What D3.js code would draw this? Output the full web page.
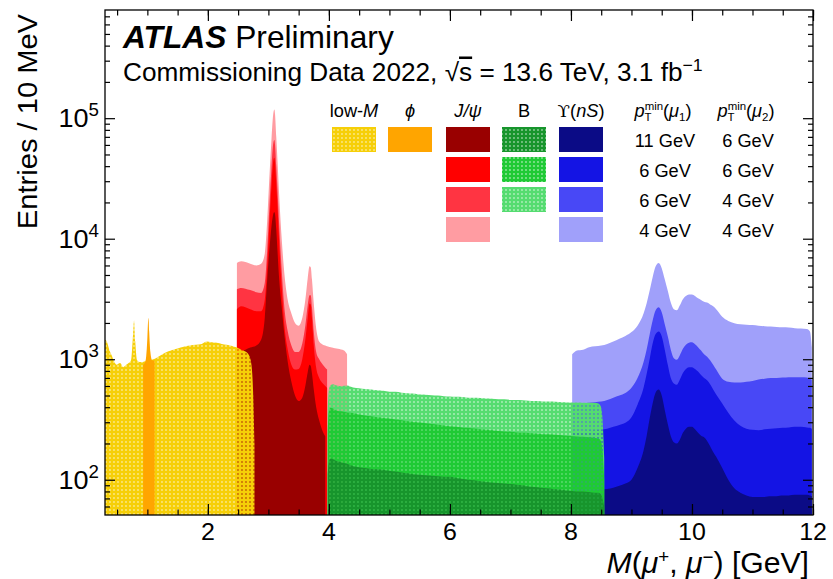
<!DOCTYPE html>
<html>
<head>
<meta charset="utf-8">
<script src="https://cdn.jsdelivr.net/npm/d3@7"></script>
<style>
html, body { margin: 0; padding: 0; background: #fff; }
svg { display: block; font-family: "Liberation Sans", Arial, Helvetica, sans-serif; }
</style>
</head>
<body>
<div id="chart"></div>
<script>
/* Settings */
var width = 833,
    height = 579,
    plotLeft = 105,
    plotRight = 813,
    plotTop = 10,
    plotBottom = 515,
    stretch = 1.04; /* the reference text is a bit wide */

/* Tick labels */
var xTicks = [2, 4, 6, 8, 10, 12],
    yDecades = [2, 3, 4, 5];

/* Legend */
var legendNames = ["low-M", "phi", "J/psi", "B", "Upsilon"],
    ptMu1Labels = ["11 GeV", "6 GeV", "6 GeV", "4 GeV"],
    ptMu2Labels = ["6 GeV", "6 GeV", "4 GeV", "4 GeV"];

/* low-M (yellow) */
var lowMMass = [0.30, 0.33, 0.37, 0.41, 0.45, 0.49, 0.55, 0.60, 0.65, 0.69, 0.73, 0.76, 0.78, 0.80, 0.83, 0.87, 0.92, 1.00, 1.10, 1.18,
                1.25, 1.32, 1.40, 1.50, 1.60, 1.70, 1.80, 1.90, 1.98, 2.06, 2.15, 2.23, 2.31, 2.40, 2.48, 2.55, 2.62, 2.68, 2.72, 2.75, 2.77];
var lowM = [1450, 1400, 1200, 1080, 960, 900, 930, 860, 900, 930, 980, 1500, 2100, 1400, 980, 950, 950, 980, 1000, 1050,
            1100, 1150, 1190, 1230, 1270, 1300, 1320, 1340, 1400, 1380, 1370, 1340, 1320, 1290, 1250, 1200, 1160, 1080, 900, 500, 200];

/* phi (orange) */
var phiMass = [0.93, 0.96, 0.98, 1.00, 1.01, 1.02, 1.03, 1.05, 1.08, 1.12];
var phiVals = [900, 940, 1050, 1500, 2000, 2200, 1700, 1150, 980, 970];

/* J/psi, pT thresholds 11/6, 6/6, 6/4, 4/4 */
var jpsiMass = [2.48, 2.55, 2.62, 2.70, 2.80, 2.88, 2.94, 2.98, 3.02, 3.05, 3.07, 3.09, 3.10, 3.11, 3.13, 3.15, 3.18, 3.22, 3.27, 3.32,
                3.38, 3.44, 3.50, 3.56, 3.61, 3.65, 3.68, 3.70, 3.72, 3.75, 3.79, 3.84, 3.90, 3.94, 3.97, 4.05, 4.15, 4.25, 4.30];
var jpsi11 = [1100, 1150, 1200, 1250, 1300, 1450, 2200, 4500, 8500, 12500, 15000, 16500, 16600, 16000, 12000, 8000, 4500, 2700, 1500, 950,
              650, 500, 450, 480, 600, 780, 900, 880, 760, 560, 400, 310, 250, 230, null, null, null, null, null];
var jpsi66 = [2600, 2750, 2700, 2600, 2500, 2500, 3100, 5800, 14500, 27000, 39000, 46500, 47000, 43000, 29000, 19000, 9000, 4000, 1800, 1200,
              900, 820, 830, 1000, 1450, 2200, 2900, 2850, 2200, 1300, 850, 700, 630, 600, 580, null, null, null, null];
var jpsi64 = [3800, 3900, 3850, 3750, 3600, 3550, 4300, 8000, 20000, 38000, 55000, 65000, 66000, 60000, 40000, 26000, 12500, 5500, 2500, 1700,
              1300, 1150, 1150, 1350, 1900, 2800, 3400, 3400, 2700, 1700, 1150, 1000, 900, 850, 820, null, null, null, null];
var jpsi44 = [6300, 6500, 6400, 6200, 6000, 6200, 7500, 14000, 35000, 65000, 95000, 116000, 118000, 108000, 70000, 45000, 22000, 10000, 4800, 3100,
              2400, 2000, 1900, 2200, 3100, 4700, 5900, 5800, 4600, 2900, 1800, 1400, 1320, 1300, 1280, 1250, 1220, 1180, 1100];

/* B, pT thresholds 11/6, 6/6, 6/4 */
var bMass = [3.98, 4.00, 4.03, 4.07, 4.1, 4.2, 4.3, 4.4, 4.5, 4.6, 4.7, 4.8, 4.9, 5.0, 5.1, 5.2, 5.3, 5.4, 5.5, 5.6,
             5.7, 5.8, 5.9, 6.0, 6.1, 6.2, 6.3, 6.4, 6.5, 6.6, 6.7, 6.8, 6.9, 7.0, 7.1, 7.2, 7.3, 7.4, 7.5, 7.6,
             7.7, 7.8, 7.9, 8.0, 8.1, 8.2, 8.3, 8.4, 8.45, 8.49, 8.52, 8.55];
var b11 = [110, 140, 150, 148, 145, 140, 136, 130, 127, 125, 123, 122, 121, 119, 117, 115, 113, 111, 110, 109,
           108, 107, 106, 106, 104, 102, 100, 99, 97, 96, 95, 94, 93, 92, 91, 90, 88, 87, 86, 85,
           84, 83, 82, 81, 80, 80, 79, 78, 78, 76, 70, 60];
var b66 = [250, 370, 395, 390, 380, 370, 362, 358, 348, 342, 336, 330, 326, 322, 316, 312, 306, 302, 298, 294,
           290, 286, 282, 278, 275, 272, 270, 266, 263, 260, 258, 254, 252, 250, 247, 245, 244, 242, 240, 238,
           237, 235, 233, 231, 229, 227, 225, 222, 220, 212, 180, 100];
var b64 = [380, 560, 610, 620, 612, 598, 605, 582, 575, 566, 560, 552, 548, 538, 536, 528, 522, 519, 510, 508,
           502, 499, 494, 491, 488, 486, 480, 478, 476, 472, 470, 466, 465, 460, 458, 456, 452, 450, 449, 446,
           445, 442, 440, 438, 437, 436, 435, 433, 430, 410, 330, 150];

/* Upsilon(nS), pT thresholds 11/6, 6/6, 6/4, 4/4 */
var upsMass = [8.02, 8.1, 8.2, 8.3, 8.4, 8.5, 8.6, 8.7, 8.8, 8.9, 9.0, 9.1, 9.2,
               9.25, 9.3, 9.35, 9.4, 9.45, 9.5, 9.55, 9.6, 9.65, 9.7, 9.75, 9.8, 9.85, 9.9, 9.95, 10.0, 10.05, 10.1, 10.15, 10.2, 10.25, 10.3, 10.35, 10.4,
               10.5, 10.6, 10.7, 10.8, 10.9, 11.0, 11.1, 11.2, 11.3, 11.4, 11.5, 11.6, 11.7, 11.8, 11.9, 11.95, 11.98];
var ups11 = [80, 80, 81, 81, 82, 83, 84, 86, 89, 93, 100, 125, 175,
             230, 320, 430, 530, 560, 500, 380, 290, 230, 205, 200, 215, 245, 265, 275, 275, 262, 245, 232, 225, 210, 190, 170, 155,
             125, 100, 85, 78, 74, 72, 72, 72, 73, 73, 74, 74, 75, 75, 75, 74, 73];
var ups66 = [250, 252, 254, 256, 258, 260, 265, 275, 285, 297, 330, 420, 580,
             750, 1000, 1350, 1620, 1700, 1550, 1200, 900, 700, 630, 615, 680, 770, 830, 860, 860, 830, 790, 740, 700, 670, 620, 560, 510,
             430, 360, 310, 280, 265, 260, 258, 262, 265, 268, 270, 272, 275, 275, 272, 270, 265];
var ups64 = [420, 425, 430, 435, 440, 445, 460, 480, 500, 525, 580, 700, 950,
             1200, 1600, 2100, 2550, 2700, 2450, 1950, 1550, 1200, 1020, 990, 1080, 1220, 1320, 1370, 1380, 1330, 1260, 1180, 1100, 1050, 980, 900, 820,
             690, 650, 640, 640, 650, 660, 680, 690, 700, 700, 705, 710, 710, 710, 705, 690, 680];
var ups44 = [1100, 1180, 1200, 1260, 1280, 1300, 1340, 1400, 1480, 1560, 1680, 1900, 2400,
             2900, 3700, 4800, 5900, 6300, 5700, 4600, 3700, 2950, 2600, 2550, 2800, 3150, 3350, 3450, 3450, 3350, 3200, 3100, 3000, 2950, 2850, 2750, 2600,
             2250, 2080, 1990, 1950, 1930, 1920, 1900, 1880, 1870, 1850, 1840, 1830, 1810, 1800, 1780, 1700, 1250];

/* Colours */
var col = {
  yellow: "#f6cf08", orange: "#ffa500",
  darkRed: "#990000", red: "#ff0000", midRed: "#ff3442", pink: "#ff9ca2",
  darkGreen: "#17952c", green: "#1fca35", lightGreen: "#55dc70",
  navy: "#0b0b86", blue: "#1414e4", midBlue: "#4848f6", lightBlue: "#a0a0fa"
};

var x = d3.scaleLinear().domain([0.3, 12]).range([plotLeft, plotRight]);
var y = d3.scaleLog().domain([51, 7.9e5]).range([plotBottom, plotTop]);

var svg = d3.select("#chart").append("svg")
    .attr("width", width)
    .attr("height", height)
    .attr("viewBox", "0 0 " + width + " " + height);

var defs = svg.append("defs");
defs.append("clipPath").attr("id", "clip")
  .append("rect")
    .attr("x", plotLeft).attr("y", plotTop)
    .attr("width", plotRight - plotLeft).attr("height", plotBottom - plotTop);

/* dotted fills: colour with small see-through holes */
function dotPattern(id, colour) {
  defs.append("pattern")
      .attr("id", id)
      .attr("patternUnits", "userSpaceOnUse")
      .attr("width", 4).attr("height", 4)
    .append("path")
      .attr("d", "M0,0H4V4H0Z M2,1.3A0.7,0.7 0 1,0 2,2.7A0.7,0.7 0 1,0 2,1.3Z")
      .attr("fill-rule", "evenodd")
      .attr("fill", colour);
  return "url(#" + id + ")";
}
var fillYellow = dotPattern("dotYellow", col.yellow),
    fillDarkGreen = dotPattern("dotDarkGreen", col.darkGreen),
    fillGreen = dotPattern("dotGreen", col.green),
    fillLightGreen = dotPattern("dotLightGreen", col.lightGreen);

var plot = svg.append("g").attr("clip-path", "url(#clip)");

function histo(mass, vals, fill) {
  var area = d3.area()
      .defined(function(d) { return d[1] != null; })
      .x(function(d) { return x(d[0]); })
      .y0(plotBottom)
      .y1(function(d) { return y(d[1]); })
      .curve(d3.curveMonotoneX);
  plot.append("path")
      .datum(d3.zip(mass, vals))
      .attr("d", area)
      .attr("fill", fill);
}

/* J/psi */
histo(jpsiMass, jpsi44, col.pink);
histo(jpsiMass, jpsi64, col.midRed);
histo(jpsiMass, jpsi66, col.red);
histo(jpsiMass, jpsi11, col.darkRed);
/* low-M and phi */
histo(lowMMass, lowM, fillYellow);
histo(phiMass, phiVals, col.orange);
/* Upsilon */
histo(upsMass, ups44, col.lightBlue);
histo(upsMass, ups64, col.midBlue);
histo(upsMass, ups66, col.blue);
histo(upsMass, ups11, col.navy);
/* B */
histo(bMass, b64, fillLightGreen);
histo(bMass, b66, fillGreen);
histo(bMass, b11, fillDarkGreen);

/* Axes: ROOT style, ticks inside on all four sides */
var xMinor = d3.range(0.5, 12.01, 0.5);
var yMinor = [];
yDecades.concat([1]).forEach(function(e) {
  d3.range(2, 10).forEach(function(m) {
    var v = m * Math.pow(10, e);
    if (v > 51 && v < 7.9e5) yMinor.push(v);
  });
});
var yMajor = yDecades.map(function(e) { return Math.pow(10, e); });

function ticks(axis, vals, size, tx) {
  var g = svg.append("g")
      .attr("transform", tx)
      .call(axis.tickValues(vals).tickSize(-size).tickFormat(""));
  g.select(".domain").remove();
  g.selectAll("line").attr("stroke", "#000").attr("stroke-width", 1.2);
}
ticks(d3.axisBottom(x), xTicks, 11, "translate(0," + plotBottom + ")");
ticks(d3.axisBottom(x), xMinor, 5.5, "translate(0," + plotBottom + ")");
ticks(d3.axisTop(x), xTicks, 11, "translate(0," + plotTop + ")");
ticks(d3.axisTop(x), xMinor, 5.5, "translate(0," + plotTop + ")");
ticks(d3.axisLeft(y), yMajor, 10, "translate(" + plotLeft + ",0)");
ticks(d3.axisLeft(y), yMinor, 5, "translate(" + plotLeft + ",0)");
ticks(d3.axisRight(y), yMajor, 10, "translate(" + plotRight + ",0)");
ticks(d3.axisRight(y), yMinor, 5, "translate(" + plotRight + ",0)");

svg.append("rect")
    .attr("x", plotLeft).attr("y", plotTop)
    .attr("width", plotRight - plotLeft).attr("height", plotBottom - plotTop)
    .attr("fill", "none")
    .attr("stroke", "#000")
    .attr("stroke-width", 1.3);

/* Text with sub/superscripts, slightly widened like the reference */
function richText(px, py, anchor, size, parts, rotate) {
  var t = svg.append("text")
      .attr("transform", "translate(" + px + "," + py + ")" + (rotate ? " rotate(" + rotate + ")" : "") + " scale(" + stretch + ",1)")
      .attr("text-anchor", anchor)
      .attr("font-size", size)
      .attr("fill", "#000");
  parts.forEach(function(p) {
    var s = t.append("tspan").text(p.t);
    if (p.it) s.attr("font-style", "italic");
    if (p.bold) s.attr("font-weight", "bold");
    if (p.size) s.attr("font-size", p.size);
    if (p.dy) s.attr("dy", p.dy);
    if (p.dx) s.attr("dx", p.dx);
    if (p.deco) s.attr("text-decoration", p.deco);
    if (p.font) s.attr("font-family", p.font);
  });
  return t;
}

/* tick labels */
xTicks.forEach(function(v) {
  richText(x(v), 540, "middle", 24, [{t: String(v)}]);
});
yDecades.forEach(function(e) {
  richText(99, y(Math.pow(10, e)) + 9, "end", 26, [{t: "10"}, {t: String(e), size: 18, dy: -11}]);
});

/* axis titles */
richText(809, 573, "end", 29, [
  {t: "M", it: 1}, {t: "("}, {t: "\u03bc", it: 1}, {t: "+", size: 18, dy: -10},
  {t: ", ", dy: 10}, {t: "\u03bc", it: 1}, {t: "\u2212", size: 18, dy: -10}, {t: ") [GeV]", dy: 10}
]);
richText(37, 14, "end", 28, [{t: "Entries / 10 MeV"}], -90);

/* ATLAS label */
richText(123, 48, "start", 30.5, [{t: "ATLAS", bold: 1, it: 1}, {t: " Preliminary"}]);
richText(123, 81, "start", 25.2, [
  {t: "Commissioning Data 2022, \u221a"}, {t: "s", deco: "overline"},
  {t: " = 13.6 TeV, 3.1 fb"}, {t: "\u22121", size: 17, dy: -10}
]);

/* Legend */
var colX = [354, 410, 468, 524, 581],
    headerY = 117,
    rowTop = 127,
    rowStep = 30,
    boxW = 44,
    boxH = 25;

var headers = [
  [{t: "low-"}, {t: "M", it: 1}],
  [{t: "\u03d5", it: 1}],
  [{t: "J/\u03c8", it: 1}],
  [{t: "B"}],
  [{t: "\u03d2", font: "'DejaVu Serif', 'DejaVu Sans', serif"}, {t: "("}, {t: "nS", it: 1}, {t: ")"}]
];
var boxes = [
  [fillYellow],
  [col.orange],
  [col.darkRed, col.red, col.midRed, col.pink],
  [fillDarkGreen, fillGreen, fillLightGreen],
  [col.navy, col.blue, col.midBlue, col.lightBlue]
];
legendNames.forEach(function(name, i) {
  richText(colX[i], headerY, "middle", 17.5, headers[i]);
  boxes[i].forEach(function(f, r) {
    svg.append("rect")
        .attr("x", colX[i] - boxW / 2)
        .attr("y", rowTop + r * rowStep)
        .attr("width", boxW)
        .attr("height", boxH)
        .attr("fill", f);
  });
});

function ptHeader(cx, idx) {
  richText(cx, headerY, "middle", 17.5, [
    {t: "p", it: 1}, {t: "T", size: 11, dy: 4}, {t: "min", size: 11, dx: -6.7, dy: -11},
    {t: "(", dy: 7}, {t: "\u03bc", it: 1}, {t: idx, size: 11, dy: 4}, {t: ")", dy: -4}
  ]);
}
ptHeader(663, "1");
ptHeader(746, "2");
ptMu1Labels.forEach(function(s, r) {
  richText(665, rowTop + r * rowStep + 20, "middle", 17.5, [{t: s}]);
});
ptMu2Labels.forEach(function(s, r) {
  richText(748, rowTop + r * rowStep + 20, "middle", 17.5, [{t: s}]);
});
</script>
</body>
</html>
